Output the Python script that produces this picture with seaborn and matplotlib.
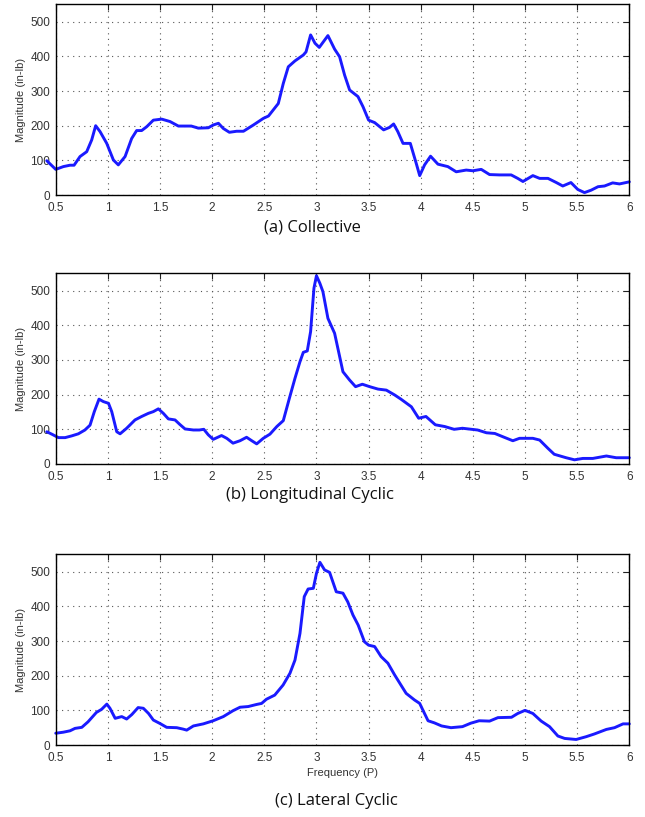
import numpy as np
import pandas as pd
import matplotlib
matplotlib.use("Agg")
import matplotlib.pyplot as plt
import seaborn as sns

# ---- data ----
freq_a = [0.414, 0.5, 0.573, 0.637, 0.676, 0.733, 0.797, 0.845, 0.883, 0.925, 0.989, 1.053, 1.10, 1.165,
          1.228, 1.276, 1.324, 1.372, 1.436, 1.516, 1.596, 1.676, 1.756, 1.80, 1.867, 1.963, 2.01, 2.06,
          2.107, 2.165, 2.235, 2.30, 2.395, 2.49, 2.54, 2.634, 2.682, 2.73, 2.794, 2.874, 2.90, 2.944,
          2.986, 3.027, 3.11, 3.174, 3.222, 3.27, 3.318, 3.398, 3.446, 3.50, 3.558, 3.644, 3.70, 3.74,
          3.78, 3.83, 3.90, 3.957, 3.99, 4.037, 4.094, 4.165, 4.26, 4.34, 4.436, 4.50, 4.58, 4.66, 4.756,
          4.867, 4.93, 4.98, 5.075, 5.14, 5.22, 5.30, 5.362, 5.44, 5.506, 5.57, 5.634, 5.70, 5.762, 5.84,
          5.906, 6.0]
mag_a = [99, 74, 82, 86, 86, 111, 125, 159, 200, 183, 149, 101, 87, 111,
         163, 186, 186, 197, 216, 219, 212, 199, 199, 199, 193, 194, 202, 207,
         192, 181, 184, 184, 202, 221, 228, 264, 322, 370, 387, 404, 413, 462,
         438, 426, 460, 421, 399, 346, 303, 284, 255, 216, 209, 188, 195, 205,
         183, 149, 149, 91, 56, 87, 112, 89, 82, 67, 72, 70, 74, 59, 58,
         58, 48, 39, 56, 48, 48, 36, 26, 36, 16, 7, 14, 24, 26, 35,
         32, 38]

freq_b = [0.414, 0.462, 0.526, 0.59, 0.653, 0.717, 0.78, 0.829, 0.87, 0.915, 0.956, 1.006, 1.037, 1.085,
          1.117, 1.18, 1.26, 1.324, 1.388, 1.436, 1.484, 1.532, 1.58, 1.644, 1.69, 1.74, 1.82, 1.877,
          1.92, 1.963, 2.01, 2.09, 2.14, 2.20, 2.267, 2.33, 2.38, 2.427, 2.49, 2.554, 2.62, 2.682, 2.74,
          2.794, 2.842, 2.874, 2.912, 2.944, 2.976, 3.0, 3.033, 3.062, 3.11, 3.174, 3.254, 3.318, 3.375,
          3.44, 3.51, 3.59, 3.67, 3.75, 3.81, 3.91, 3.98, 4.05, 4.14, 4.23, 4.32, 4.40, 4.545, 4.63,
          4.71, 4.80, 4.883, 4.947, 5.075, 5.14, 5.22, 5.28, 5.394, 5.474, 5.554, 5.65, 5.78, 5.874, 6.0]
mag_b = [93, 86, 76, 76, 81, 87, 98, 112, 151, 187, 180, 175, 151, 93,
         87, 103, 127, 137, 146, 151, 159, 146, 130, 127, 114, 101, 98, 98,
         100, 84, 71, 82, 74, 60, 67, 77, 67, 58, 74, 86, 108, 125, 189,
         247, 295, 322, 326, 382, 507, 543, 521, 497, 420, 377, 266, 242, 223,
         230, 223, 216, 213, 199, 187, 165, 132, 137, 113, 108, 100, 103, 98, 90,
         88, 77, 67, 74, 74, 69, 45, 28, 18, 12, 16, 16, 23, 18, 18]

freq_c = [0.5, 0.573, 0.637, 0.685, 0.75, 0.81, 0.89, 0.94, 0.99, 1.02, 1.07, 1.133, 1.18, 1.23,
          1.29, 1.34, 1.39, 1.436, 1.50, 1.564, 1.66, 1.72, 1.756, 1.82, 1.915, 2.01, 2.107, 2.20,
          2.267, 2.346, 2.426, 2.474, 2.52, 2.60, 2.68, 2.746, 2.794, 2.842, 2.883, 2.92, 2.97, 3.0,
          3.033, 3.078, 3.126, 3.19, 3.254, 3.30, 3.35, 3.40, 3.46, 3.50, 3.558, 3.62, 3.685, 3.75,
          3.81, 3.86, 3.94, 3.99, 4.02, 4.07, 4.13, 4.20, 4.29, 4.40, 4.48, 4.56, 4.66, 4.74, 4.87,
          4.93, 5.0, 5.075, 5.155, 5.235, 5.315, 5.38, 5.49, 5.586, 5.666, 5.78, 5.858, 5.94, 6.0]
mag_c = [34, 37, 41, 48, 51, 67, 94, 103, 118, 106, 77, 82, 75, 88,
         108, 106, 91, 72, 62, 51, 50, 46, 43, 55, 61, 70, 82, 99,
         109, 111, 117, 120, 132, 144, 173, 207, 245, 322, 428, 450, 452, 495,
         527, 505, 498, 442, 438, 413, 375, 346, 298, 288, 284, 255, 236, 202,
         173, 149, 130, 120, 101, 70, 64, 55, 50, 53, 63, 70, 69, 79, 80,
         91, 100, 91, 69, 53, 26, 19, 16, 24, 32, 45, 50, 61, 61]

captions = ["(a) Collective", "(b) Longitudinal Cyclic", "(c) Lateral Cyclic"]
caption_x = [0.484, 0.481, 0.522]
xticks = [0.5, 1, 1.5, 2, 2.5, 3, 3.5, 4, 4.5, 5, 5.5, 6]
xticklabels = ["0.5", "1", "1.5", "2", "2.5", "3", "3.5", "4", "4.5", "5", "5.5", "6"]
yticks = [0, 100, 200, 300, 400, 500]

sns.set_theme(style="white")
plt.rcParams['font.family'] = ['Liberation Sans', 'DejaVu Sans']

fig = plt.figure(figsize=(6.45, 8.17), dpi=100)
left, width = 0.0864, 0.9757 - 0.0864
boxes = [(0.7613, 0.9946), (0.4321, 0.6655), (0.0881, 0.3215)]
caption_y = [1 - 227 / 817, 1 - 495 / 817, 1 - 801 / 817]

series = [(freq_a, mag_a), (freq_b, mag_b), (freq_c, mag_c)]
for i, ((fx, my), (b, t)) in enumerate(zip(series, boxes)):
    ax = fig.add_axes([left, b, width, t - b])
    df = pd.DataFrame({"Frequency": fx, "Magnitude": my})
    sns.lineplot(data=df, x="Frequency", y="Magnitude", ax=ax, color="#1a1aff",
                 linewidth=2.1, sort=False)
    for ln in ax.lines:
        ln.set_clip_on(False)
        ln.set_solid_joinstyle("round")
        ln.set_solid_capstyle("round")
    ax.set_xlim(0.5, 6)
    ax.set_ylim(0, 550)
    ax.set_xticks(xticks)
    ax.set_xticklabels(xticklabels)
    ax.set_yticks(yticks)
    ax.grid(True, linestyle=(0, (1, 4)), color="#555555", linewidth=0.8)
    ax.tick_params(direction="in", top=True, right=True, length=4, width=0.8,
                   labelsize=8.5, labelcolor="#333333", color="#222222")
    ax.tick_params(axis="x", pad=5)
    ax.tick_params(axis="y", pad=4)
    for s in ax.spines.values():
        s.set_color("black")
        s.set_linewidth(1.0)
    ax.set_ylabel("Magnitude (in-lb)", fontsize=8, color="#333333", labelpad=3)
    if i == 2:
        ax.set_xlabel("Frequency (P)", fontsize=8, color="#333333", labelpad=3)
    else:
        ax.set_xlabel("")
    fig.text(caption_x[i], caption_y[i], captions[i], ha="center", va="center",
             fontsize=12, family=["Open Sans", "DejaVu Sans"], color="#111111")

fig.savefig("out.png", dpi=100)
